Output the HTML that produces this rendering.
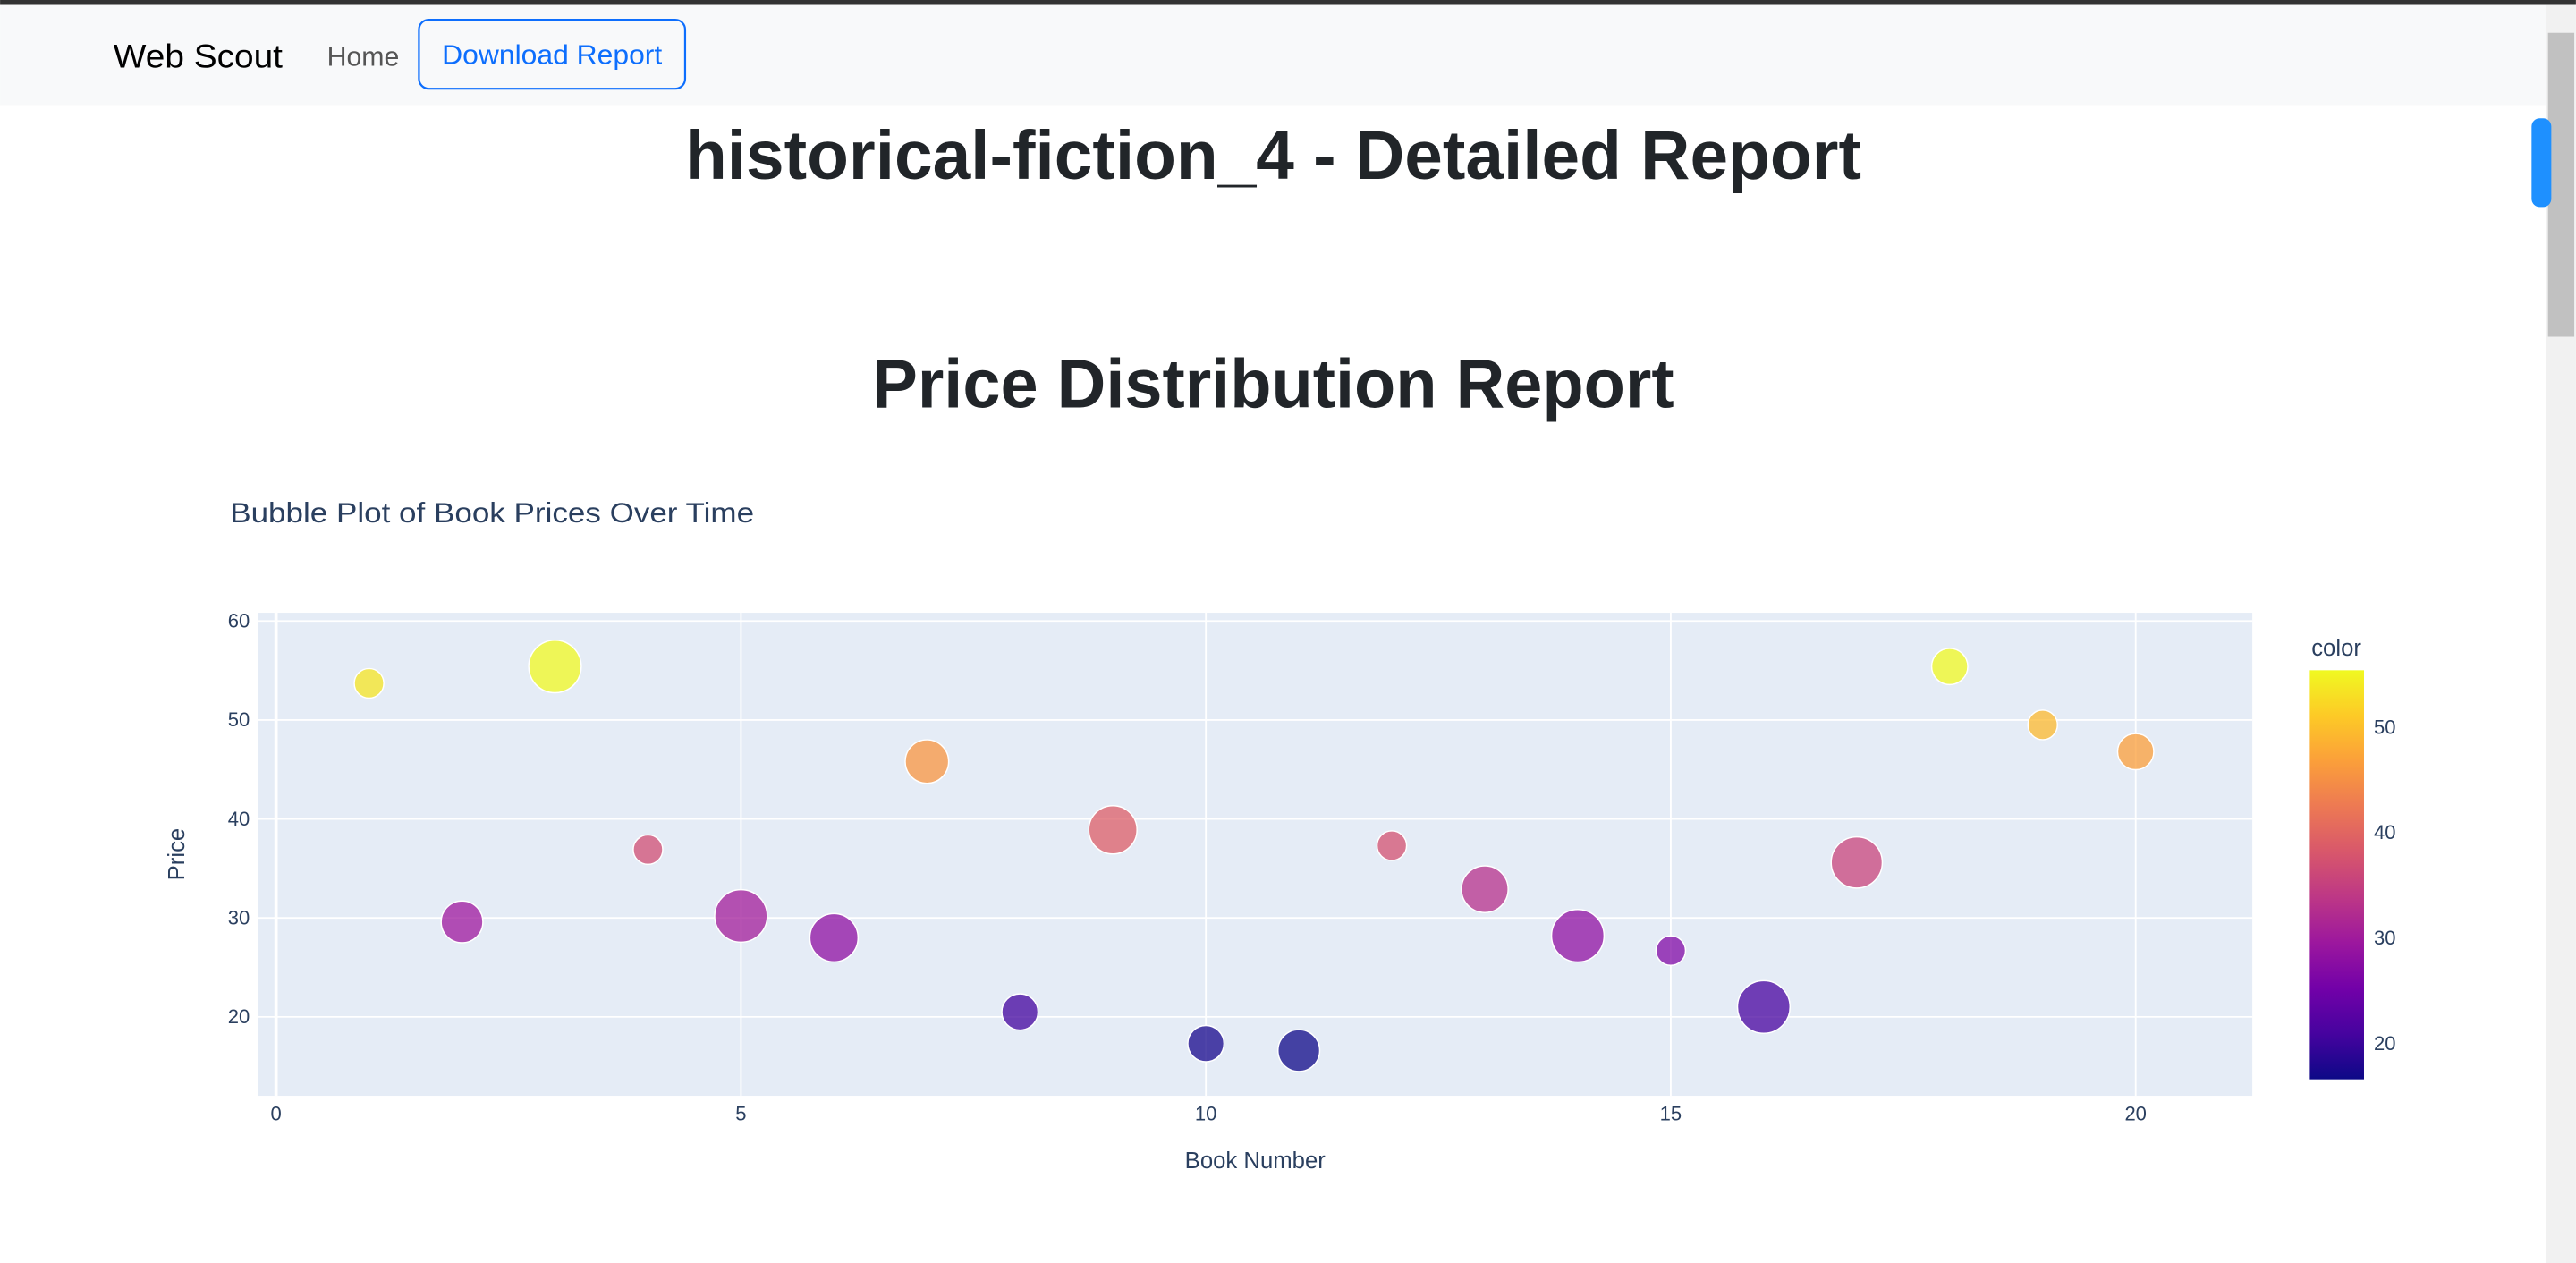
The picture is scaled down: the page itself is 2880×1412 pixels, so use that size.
<!DOCTYPE html>
<html><head><meta charset="utf-8"><style>
html,body{margin:0;padding:0;background:#fff;overflow:hidden}
svg{display:block}
text{font-family:"Liberation Sans",sans-serif}
</style></head><body>
<svg id="page" width="2880" height="1412" viewBox="0 0 1568 768.8" xmlns="http://www.w3.org/2000/svg">
<rect x="0" y="0" width="1550" height="64" fill="#f8f9fa"/>
<rect x="0" y="0" width="1568" height="3" fill="#333"/>
<text x="69" y="41" font-size="20" fill="#000" textLength="103" lengthAdjust="spacingAndGlyphs">Web Scout</text>
<text x="199" y="40" font-size="16.5" fill="#555">Home</text>
<rect x="255" y="12" width="162" height="42" rx="6" fill="none" stroke="#0d6efd" stroke-width="1.2"/>
<text x="336" y="39" font-size="16.5" fill="#0d6efd" text-anchor="middle" textLength="134" lengthAdjust="spacingAndGlyphs">Download Report</text>
<text x="775" y="109" font-size="42" font-weight="bold" fill="#212529" text-anchor="middle" textLength="716" lengthAdjust="spacingAndGlyphs">historical-fiction_4 - Detailed Report</text>
<text x="775" y="248" font-size="42" font-weight="bold" fill="#212529" text-anchor="middle" textLength="488" lengthAdjust="spacingAndGlyphs">Price Distribution Report</text>
<text x="140" y="318" font-size="17" fill="#2a3f5f" textLength="319" lengthAdjust="spacingAndGlyphs">Bubble Plot of Book Prices Over Time</text>
<rect x="157" y="373" width="1214" height="294" fill="#e5ecf6"/>
<g id="grid"></g>
<g id="marks"></g>
<g id="axes"></g>
<text x="764" y="711" font-size="14" fill="#2a3f5f" text-anchor="middle">Book Number</text>
<text x="112" y="520" font-size="14" fill="#2a3f5f" text-anchor="middle" transform="rotate(-90 112 520)">Price</text>
<text x="1407" y="399" font-size="14" fill="#2a3f5f">color</text>
<defs><linearGradient id="plasma" x1="0" y1="1" x2="0" y2="0"></linearGradient></defs>
<rect x="1406" y="408" width="33" height="249" fill="url(#plasma)"/>
<g id="cbticks"></g>
<rect x="1550" y="3" width="18" height="766" fill="#f1f1f1"/>
<rect x="1551" y="20" width="16" height="185" fill="#c1c1c1"/>
<rect x="1541" y="72" width="12" height="54" rx="5" fill="#1e90ff"/>
</svg>
<script>
const bookNumbers=[1,2,3,4,5,6,7,8,9,10,11,12,13,14,15,16,17,18,19,20];
const prices=[53.7,29.6,55.4,36.9,30.2,28.0,45.8,20.5,38.9,17.3,16.6,37.3,32.9,28.2,26.7,21.0,35.6,55.4,49.5,46.8];
const sizes=[3,6,9.5,3,9.5,8,6.5,4.5,8,4.5,6,3,7.5,9.5,3,9.5,9,4.5,3,4.5];
const xTicks=[0,5,10,15,20];
const yTicks=[20,30,40,50,60];
const cTicks=[20,30,40,50];
const NS="http://www.w3.org/2000/svg";
const X=v=>168+v*(1300-168)/20;
const Y=v=>619-(v-20)*(619-378)/40;
const plasma=["#0d0887","#46039f","#7201a8","#9c179e","#bd3786","#d8576b","#ed7953","#fb9f3a","#fdca26","#f0f921"];
const cmin=Math.min(...prices),cmax=Math.max(...prices);
function hex(h){return[1,3,5].map(i=>parseInt(h.substr(i,2),16));}
function col(v){let t=(v-cmin)/(cmax-cmin);t=Math.max(0,Math.min(1,t));const p=t*(plasma.length-1),i=Math.min(Math.floor(p),plasma.length-2),f=p-i;const a=hex(plasma[i]),b=hex(plasma[i+1]);return"rgb("+a.map((c,k)=>Math.round(c+(b[k]-c)*f)).join(",")+")";}
function mk(tag,attrs,parent){const e=document.createElementNS(NS,tag);for(const k in attrs)e.setAttribute(k,attrs[k]);parent.appendChild(e);return e;}
const grid=document.getElementById('grid'),axes=document.getElementById('axes'),marks=document.getElementById('marks');
xTicks.forEach(t=>{const l=mk('line',{x1:X(t),x2:X(t),y1:373,y2:667,stroke:'#fff','stroke-width':t===0?2:1},grid);


const tx=mk('text',{x:X(t),y:682,'font-size':12,fill:'#2a3f5f','text-anchor':'middle'},axes);tx.textContent=t;

});
yTicks.forEach(t=>{const l=mk('line',{x1:157,x2:1371,y1:Y(t),y2:Y(t),stroke:'#fff','stroke-width':1},grid);


const tx=mk('text',{x:152,y:Y(t)+4,'font-size':12,fill:'#2a3f5f','text-anchor':'end'},axes);tx.textContent=t;

});
const smax=Math.max(...sizes);
bookNumbers.forEach((b,i)=>{const c=mk('circle',{cx:X(b),cy:Y(prices[i]),r:16*Math.sqrt(sizes[i]/smax),fill:col(prices[i]),'fill-opacity':0.75,stroke:'#fff','stroke-width':0.8},marks);

});
const g=document.getElementById('plasma');
plasma.forEach((c,i)=>mk('stop',{offset:(i/(plasma.length-1)),'stop-color':c},g));
const cb=document.getElementById('cbticks');
const CY=v=>657-(v-cmin)/(cmax-cmin)*249;
cTicks.forEach(t=>{const tx=mk('text',{x:1445,y:CY(t)+4,'font-size':12,fill:'#2a3f5f'},cb);tx.textContent=t;

});
</script>
</body></html>
